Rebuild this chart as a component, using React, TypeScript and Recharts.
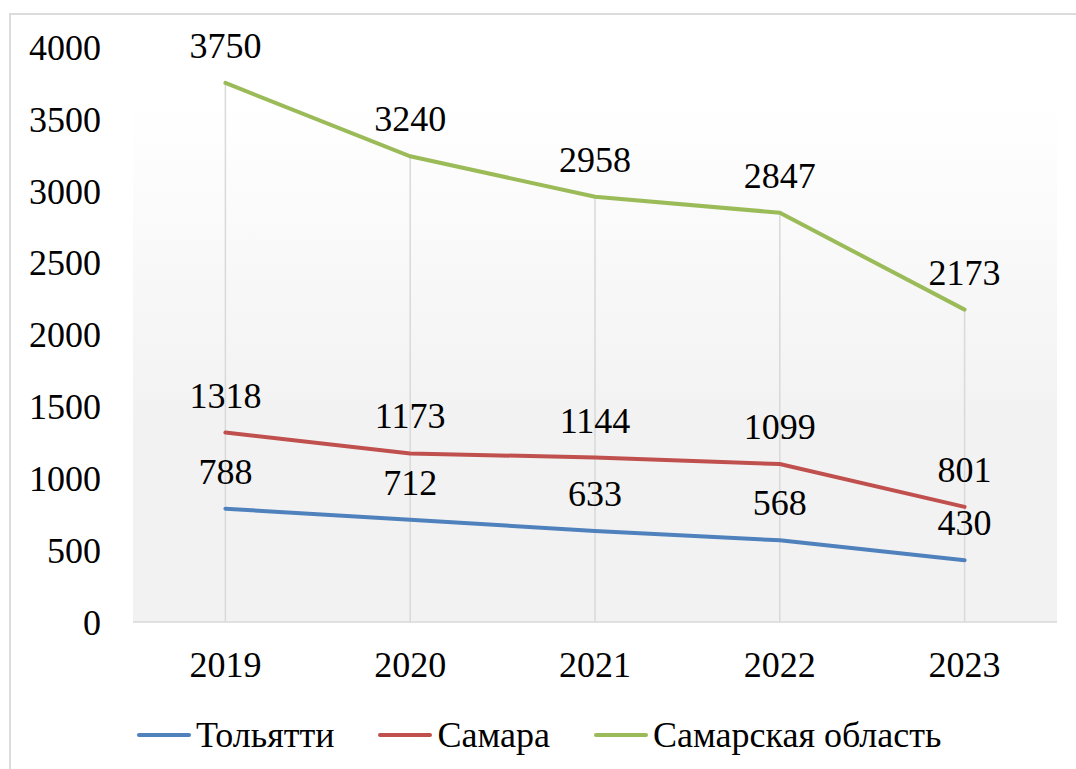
import {
  CartesianGrid,
  Legend,
  LabelList,
  Line,
  LineChart,
  ReferenceLine,
  XAxis,
  YAxis,
} from "recharts";

const years = ["2019", "2020", "2021", "2022", "2023"];
const tolyatti = [788, 712, 633, 568, 430];
const samara = [1318, 1173, 1144, 1099, 801];
const oblast = [3750, 3240, 2958, 2847, 2173];
const yTicks = [0, 500, 1000, 1500, 2000, 2500, 3000, 3500, 4000];

const FONT = '"Times New Roman", "Liberation Serif", serif';

const data = years.map((year, i) => ({
  year,
  tolyatti: tolyatti[i],
  samara: samara[i],
  oblast: oblast[i],
  top: Math.max(tolyatti[i], samara[i], oblast[i]),
}));

const series = [
  { key: "tolyatti", name: "Тольятти", color: "#4F81BD" },
  { key: "samara", name: "Самара", color: "#C0504D" },
  { key: "oblast", name: "Самарская область", color: "#9BBB59" },
];

function ChartLegend() {
  return (
    <div
      style={{
        display: "flex",
        alignItems: "center",
        paddingLeft: 137,
        height: 44,
        lineHeight: "44px",
        fontFamily: FONT,
        fontSize: 36,
        color: "#000",
      }}
    >
      {series.map((s) => (
        <div key={s.key} style={{ display: "flex", alignItems: "center", marginRight: 44 }}>
          <svg width={54} height={8}>
            <line x1={2} y1={4} x2={52} y2={4} stroke={s.color} strokeWidth={4} strokeLinecap="round" />
          </svg>
          <span style={{ marginLeft: 5 }}>{s.name}</span>
        </div>
      ))}
    </div>
  );
}

export default function App() {
  return (
    <div
      style={{
        position: "absolute",
        left: 0,
        top: 0,
        width: 1076,
        height: 769,
        overflow: "hidden",
        background: "#fff",
        fontFamily: FONT,
      }}
    >
      <div
        style={{
          position: "absolute",
          left: 9,
          top: 13,
          width: 1200,
          height: 900,
          borderTop: "2px solid #dcdcdc",
          borderLeft: "2px solid #dcdcdc",
        }}
      />
      <LineChart
        width={1076}
        height={769}
        data={data}
        margin={{ top: 47, right: 19, bottom: 12, left: 0 }}
        style={{ position: "absolute", left: 0, top: 0, fontFamily: FONT }}
      >
        <defs>
          <linearGradient id="plotBg" x1="0" y1="0" x2="0" y2="1">
            <stop offset="10%" stopColor="#ffffff" />
            <stop offset="65%" stopColor="#f2f2f2" />
          </linearGradient>
        </defs>
        <CartesianGrid horizontal={false} vertical={false} fill="url(#plotBg)" />
        <XAxis
          dataKey="year"
          scale="band"
          height={91}
          tickLine={false}
          tickSize={0}
          tickMargin={29}
          axisLine={{ stroke: "#d9d9d9", strokeWidth: 1.5 }}
          tick={{ fontSize: 36, fontFamily: FONT, fill: "#000" }}
          interval={0}
        />
        <YAxis
          domain={[0, 4000]}
          ticks={yTicks}
          width={133}
          axisLine={false}
          tickLine={false}
          tickSize={0}
          tickMargin={32}
          interval={0}
          tick={{ fontSize: 36, fontFamily: FONT, fill: "#000" }}
        />
        {data.map((d) => (
          <ReferenceLine
            key={d.year}
            segment={[
              { x: d.year, y: 0 },
              { x: d.year, y: d.top },
            ]}
            stroke="#d9d9d9"
            strokeWidth={1.5}
          />
        ))}
        <Legend verticalAlign="bottom" content={<ChartLegend />} />
        {series.map((s) => (
          <Line
            key={s.key}
            dataKey={s.key}
            name={s.name}
            stroke={s.color}
            strokeWidth={4}
            strokeLinecap="round"
            dot={false}
            activeDot={false}
            isAnimationActive={false}
          >
            <LabelList
              dataKey={s.key}
              position="top"
              offset={25}
              fontSize={36}
              fontFamily={FONT}
              fill="#000"
            />
          </Line>
        ))}
      </LineChart>
    </div>
  );
}
